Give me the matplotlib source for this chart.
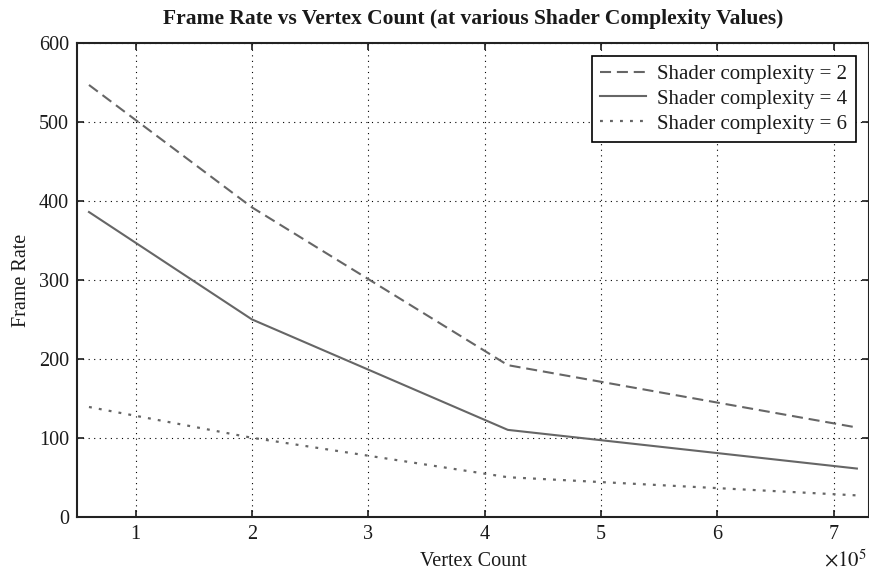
import matplotlib
matplotlib.use("Agg")
import matplotlib.pyplot as plt
from matplotlib.ticker import FuncFormatter

plt.rcParams['font.family'] = ['Liberation Serif', 'DejaVu Serif']
plt.rcParams['mathtext.fontset'] = 'stix'

# vertex counts sampled and frame rates for each shader complexity
vertex_count = [60000, 200000, 420000, 720000]
fps_shader2 = [547, 392, 192, 113]
fps_shader4 = [386, 250, 110, 61]
fps_shader6 = [139, 100, 50, 27]
labels = ['Shader complexity = 2', 'Shader complexity = 4', 'Shader complexity = 6']

line_color = '#666666'
text_color = '#1a1a1a'

fig = plt.figure(figsize=(8.7, 5.75), dpi=100)
ax = fig.add_axes([0.0889, 0.1014, 0.9094, 0.8236])

ax.plot(vertex_count, fps_shader2, color=line_color, lw=1.5, linestyle=(0, (5.3, 2.8)), label=labels[0])
ax.plot(vertex_count, fps_shader4, color=line_color, lw=1.5, linestyle='-', label=labels[1])
ax.plot(vertex_count, fps_shader6, color=line_color, lw=1.6, linestyle=(0, (1.3, 3.2)), label=labels[2])

ax.set_xlim(50000, 730000)
ax.set_ylim(0, 600)
ax.set_xticks([100000 * i for i in range(1, 8)])
ax.set_yticks(range(0, 601, 100))
ax.xaxis.set_major_formatter(FuncFormatter(lambda v, p: '%d' % round(v / 1e5)))

ax.grid(True, color='black', linestyle=(0, (1, 4)), linewidth=0.8)
ax.tick_params(direction='in', top=True, right=True, length=5, width=1.2,
               labelsize=14.5, colors=text_color, pad=6)
for s in ax.spines.values():
    s.set_linewidth(1.5)
    s.set_color('#222222')

ax.set_title('Frame Rate vs Vertex Count (at various Shader Complexity Values)',
             fontsize=15.5, fontweight='bold', pad=14, color=text_color)
ax.set_xlabel('Vertex Count', fontsize=14.5, labelpad=6, color=text_color)
ax.set_ylabel('Frame Rate', fontsize=14.5, labelpad=6, color=text_color)
# exponent of the x values, on the x label line at the right edge
ax.text(0.998, -0.106, r'$\times10^{5}$', transform=ax.transAxes,
        ha='right', va='baseline', fontsize=15, color=text_color)

leg = ax.legend(loc='upper right', fontsize=15, fancybox=False, framealpha=1,
                edgecolor='black', borderpad=0.4, labelspacing=0.25,
                handlelength=2.2, handletextpad=0.55, borderaxespad=0.62)
leg.get_frame().set_linewidth(1.2)
for t in leg.get_texts():
    t.set_color(text_color)

fig.savefig('out.png', dpi=100)
